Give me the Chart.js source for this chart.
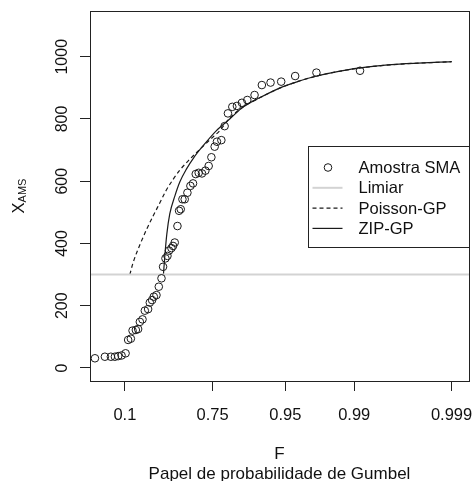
<!DOCTYPE html>
<html>
<head>
<meta charset="utf-8">
<script src="https://cdn.jsdelivr.net/npm/chart.js@4"></script>
<style>
  html, body { margin: 0; padding: 0; background: #fff; }
  #wrap { width: 474px; height: 481px; }
</style>
</head>
<body>
<div id="wrap"><canvas id="chart"></canvas></div>
<script>
// Gumbel paper: x axis is the reduced variate, labelled with F
const tickF = [0.1, 0.75, 0.95, 0.99, 0.999];
const tickX = [0, 200, 400, 600, 800, 1000];

// Amostra SMA (reduced variate, value)
const amostraVar = [-1.543, -1.307, -1.165, -1.070, -0.992, -0.912, -0.817, -0.756, -0.692, -0.652,
  -0.574, -0.520, -0.479, -0.416, -0.361, -0.283, -0.243, -0.189, -0.148, -0.085,
  -0.030, 0.034, 0.071, 0.128, 0.175, 0.213, 0.270, 0.308, 0.348, 0.412,
  0.450, 0.490, 0.530, 0.584, 0.648, 0.719, 0.781, 0.845, 0.915, 0.993,
  1.074, 1.152, 1.216, 1.294, 1.348, 1.452, 1.530, 1.608, 1.712, 1.821,
  1.939, 2.067, 2.239, 2.412, 2.618, 2.870, 3.201, 3.705, 4.738];
const amostraX = [31, 36, 36, 36, 38, 40, 47, 90, 94, 120,
  122, 125, 148, 156, 184, 189, 210, 218, 229, 234,
  261, 288, 325, 352, 360, 377, 385, 392, 403, 456,
  505, 510, 542, 542, 563, 585, 593, 623, 627, 625,
  634, 649, 677, 711, 727, 732, 777, 818, 839, 842,
  852, 861, 877, 909, 917, 920, 938, 949, 955];

// ZIP-GP fitted curve
const zipVar = [0.08, 0.11, 0.16, 0.23, 0.35, 0.47, 0.62, 0.80, 1.02, 1.33,
  1.65, 1.96, 2.36, 2.90, 3.30, 3.71, 4.08, 4.74, 5.67, 6.91];
const zipX = [300, 355, 430, 495, 552, 598, 638, 676, 714, 762,
  800, 838, 868, 903, 922, 938, 949, 964, 976, 984];

// Poisson-GP fitted curve
const poissonVar = [-0.716, -0.64, -0.48, -0.32, -0.165, -0.007, 0.15, 0.31, 0.47, 0.70,
  0.94, 1.18, 1.41, 1.65, 1.96, 2.36, 2.90, 3.30, 3.71, 4.08, 4.74, 5.67, 6.91];
const poissonX = [300, 338, 395, 445, 488, 530, 572, 606, 636, 670,
  702, 733, 762, 803, 838, 868, 903, 922, 938, 949, 964, 976, 984];

const limiar = 300;
const xRange = [-1.66, 7.32];
const yRange = [-42, 1147];

const FONT = "'Liberation Sans', Arial, sans-serif";
const gumbel = (f) => -Math.log(-Math.log(f));
const toPoints = (xs, ys) => xs.map((x, i) => ({ x: x, y: ys[i] }));

// box around plot, legend and the y title with subscript
const rStyle = {
  id: "rStyle",
  afterDraw(chart) {
    const { ctx, chartArea: a } = chart;
    ctx.save();
    ctx.strokeStyle = "#222";
    ctx.lineWidth = 1;
    ctx.strokeRect(a.left + 0.5, a.top + 0.5, a.right - a.left, a.bottom - a.top);

    // legend
    const w = 161, h = 101;
    const lx = a.right - w + 0.5;
    const ly = Math.round((a.top + a.bottom) / 2 - h / 2) + 0.5;
    ctx.fillStyle = "#fff";
    ctx.fillRect(lx, ly, w, h);
    ctx.strokeRect(lx, ly, w, h);
    const ds = chart.data.datasets;
    ctx.font = "16.5px " + FONT;
    ctx.textBaseline = "middle";
    ctx.fillStyle = "#111";
    ds.forEach((d, i) => {
      const y = ly + 21 + i * 20.3;
      if (d.showLine === false) {
        ctx.beginPath();
        ctx.arc(lx + 19.5, y, 3.8, 0, Math.PI * 2);
        ctx.strokeStyle = d.borderColor;
        ctx.lineWidth = 1;
        ctx.stroke();
      } else {
        ctx.beginPath();
        ctx.moveTo(lx + 4, y);
        ctx.lineTo(lx + 34, y);
        ctx.strokeStyle = d.borderColor;
        ctx.lineWidth = d.borderWidth;
        ctx.setLineDash(d.borderDash || []);
        ctx.stroke();
        ctx.setLineDash([]);
      }
      ctx.fillText(d.label, lx + 50, y + 1);
    });

    // y title: X with AMS subscript
    ctx.translate(23.5, (a.top + a.bottom) / 2);
    ctx.rotate(-Math.PI / 2);
    ctx.font = "16.5px " + FONT;
    const wX = ctx.measureText("X").width;
    ctx.font = "11px " + FONT;
    const wS = ctx.measureText("AMS").width;
    const x0 = -(wX + wS) / 2;
    ctx.textBaseline = "alphabetic";
    ctx.textAlign = "left";
    ctx.font = "16.5px " + FONT;
    ctx.fillText("X", x0, 0);
    ctx.font = "11px " + FONT;
    ctx.fillText("AMS", x0 + wX, 2.5);
    ctx.restore();
  }
};

new Chart(document.getElementById("chart"), {
  type: "scatter",
  data: {
    datasets: [
      {
        label: "Amostra SMA",
        data: toPoints(amostraVar, amostraX),
        showLine: false,
        pointStyle: "circle",
        pointRadius: 3.8,
        borderWidth: 1,
        borderColor: "#1a1a1a",
        backgroundColor: "rgba(0,0,0,0)",
      },
      {
        label: "Limiar",
        data: [{ x: xRange[0], y: limiar }, { x: xRange[1], y: limiar }],
        showLine: true,
        pointRadius: 0,
        borderWidth: 2,
        borderColor: "#d3d3d3",
      },
      {
        label: "Poisson-GP",
        data: toPoints(poissonVar, poissonX),
        showLine: true,
        pointRadius: 0,
        borderWidth: 1.2,
        borderDash: [4, 3],
        borderColor: "#1a1a1a",
        cubicInterpolationMode: "monotone",
      },
      {
        label: "ZIP-GP",
        data: toPoints(zipVar, zipX),
        showLine: true,
        pointRadius: 0,
        borderWidth: 1.2,
        borderColor: "#1a1a1a",
        cubicInterpolationMode: "monotone",
      },
    ],
  },
  options: {
    responsive: true,
    maintainAspectRatio: false,
    animation: false,
    layout: { padding: { top: 11, right: 4, left: 0, bottom: 0 } },
    plugins: {
      legend: { display: false },
      tooltip: { enabled: false },
    },
    scales: {
      x: {
        type: "linear",
        min: xRange[0],
        max: xRange[1],
        afterBuildTicks: (axis) => {
          axis.ticks = tickF.map((f) => ({ value: gumbel(f) }));
        },
        afterFit: (axis) => {
          axis.height = 100;
          axis.paddingLeft = 0;
          axis.paddingRight = 0;
        },
        grid: { drawOnChartArea: false, drawTicks: true, tickLength: 10, color: "#222" },
        border: { display: true, color: "#222" },
        ticks: {
          autoSkip: false,
          maxRotation: 0,
          padding: 15,
          color: "#111",
          font: { family: FONT, size: 16.5 },
          callback: (v, i) => String(tickF[i]),
        },
        title: {
          display: true,
          text: ["F", "Papel de probabilidade de Gumbel"],
          color: "#111",
          font: { family: FONT, size: 17, lineHeight: 1.2 },
          padding: { top: 0, bottom: -4 },
        },
      },
      y: {
        type: "linear",
        min: yRange[0],
        max: yRange[1],
        afterBuildTicks: (axis) => {
          axis.ticks = tickX.map((v) => ({ value: v }));
        },
        afterFit: (axis) => {
          axis.width = 90;
          axis.paddingTop = 0;
          axis.paddingBottom = 0;
        },
        grid: { drawOnChartArea: false, drawTicks: true, tickLength: 10, color: "#222" },
        border: { display: true, color: "#222" },
        ticks: {
          autoSkip: false,
          minRotation: 90,
          maxRotation: 90,
          crossAlign: "center",
          padding: 0,
          color: "#111",
          font: { family: FONT, size: 16 },
          callback: (v) => String(v),
        },
      },
    },
  },
  plugins: [rStyle],
});
</script>
</body>
</html>
